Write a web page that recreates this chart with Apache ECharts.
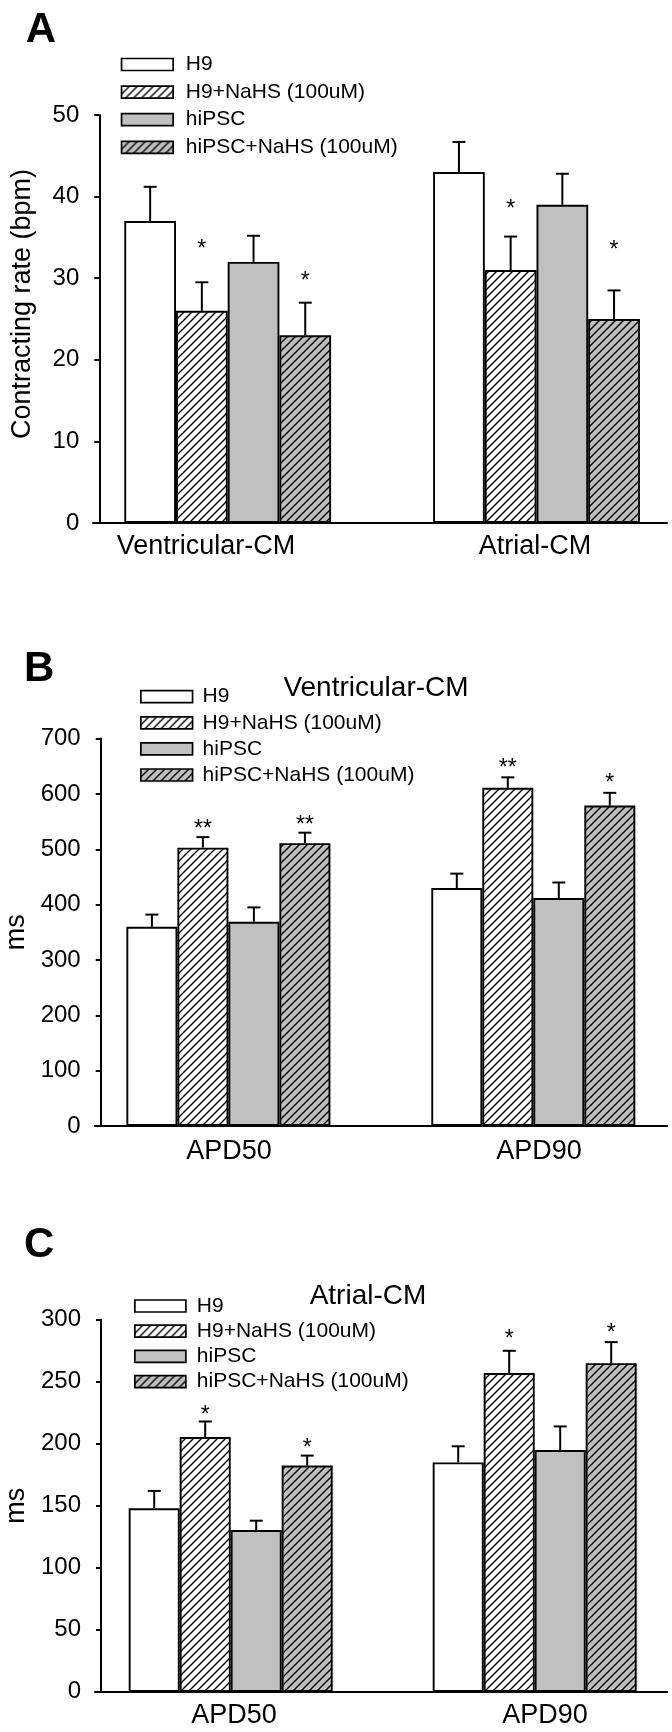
<!DOCTYPE html>
<html><head><meta charset="utf-8">
<script src="https://cdn.jsdelivr.net/npm/echarts@6/dist/echarts.min.js"></script>
<style>html,body{margin:0;padding:0;background:#fff}#c{width:672px;height:1732px}</style>
</head><body><div id="c"></div>
<script>
// ---------- data ----------
const groups = ['H9', 'H9+NaHS (100uM)', 'hiPSC', 'hiPSC+NaHS (100uM)'];

// Panel A: contracting rate (bpm)
const catsA = ['Ventricular-CM', 'Atrial-CM'];
const ticksA = [0, 10, 20, 30, 40, 50];
const rateH9 = [37, 43];
const rateH9NaHS = [26, 31];
const rateIPS = [32, 39];
const rateIPSNaHS = [23, 25];
const rateH9Sem = [4.2, 3.7];
const rateH9NaHSSem = [3.5, 4.1];
const rateIPSSem = [3.2, 3.8];
const rateIPSNaHSSem = [4.0, 3.5];
const rateH9NaHSSig = ['*', '*'];
const rateIPSNaHSSig = ['*', '*'];
const rateH9NaHSSigAt = [34.1, 39.0];
const rateIPSNaHSSigAt = [30.2, 34.0];

// Panel B: Ventricular-CM APD (ms)
const catsB = ['APD50', 'APD90'];
const ticksB = [0, 100, 200, 300, 400, 500, 600, 700];
const vH9 = [360, 430];
const vH9NaHS = [503, 611];
const vIPS = [369, 412];
const vIPSNaHS = [511, 579];
const vH9Sem = [22, 26];
const vH9NaHSSem = [19, 19];
const vIPSSem = [26, 28];
const vIPSNaHSSem = [19, 23];
const vH9NaHSSig = ['**', '**'];
const vIPSNaHSSig = ['**', '*'];
const vH9NaHSSigAt = [543, 654.6];
const vIPSNaHSSigAt = [551.5, 627.5];

// Panel C: Atrial-CM APD (ms)
const catsC = ['APD50', 'APD90'];
const ticksC = [0, 50, 100, 150, 200, 250, 300];
const aH9 = [148, 185];
const aH9NaHS = [205.5, 257];
const aIPS = [130.5, 195];
const aIPSNaHS = [182.5, 265];
const aH9Sem = [14, 13];
const aH9NaHSSem = [12.5, 18];
const aIPSSem = [7.5, 19];
const aIPSNaHSSem = [8, 17];
const aH9NaHSSig = ['*', '*'];
const aIPSNaHSSig = ['*', '*'];
const aH9NaHSSigAt = [226.6, 288];
const aIPSNaHSSigAt = [199.9, 292.7];

// ---------- layout / style ----------
const FONT = '"Liberation Sans", Arial, Helvetica, sans-serif';
const panels = [
  { letter: 'A', letterX: 25.7, letterY: 30.6, title: null,
    cats: catsA, ticks: ticksA, yName: 'Contracting rate (bpm)', namePad: [0, 0, 0, 30],
    means: [rateH9, rateH9NaHS, rateIPS, rateIPSNaHS],
    sems: [rateH9Sem, rateH9NaHSSem, rateIPSSem, rateIPSNaHSSem],
    sigs: [null, rateH9NaHSSig, null, rateIPSNaHSSig],
    sigAt: [null, rateH9NaHSSigAt, null, rateIPSNaHSSigAt],
    top: 115, height: 408, dataLeft: 73.3, dataWidth: 617.6, barW: 51.7,
    axisLeft: 93, yOff: -6.3, labelMargin: 10, labelShift: [-21.7, -1.5],
    legendLeft: 120.7, legendTop: 54, legendGap: 6.6, legendW: 51.6, legendPad: 7.7 },
  { letter: 'B', letterX: 24, letterY: 669.6, title: 'Ventricular-CM', titleX: 376, titleY: 688.3,
    cats: catsB, ticks: ticksB, yName: 'ms', namePad: [0, 0, 0, 0],
    means: [vH9, vH9NaHS, vIPS, vIPSNaHS],
    sems: [vH9Sem, vH9NaHSSem, vIPSSem, vIPSNaHSSem],
    sigs: [null, vH9NaHSSig, null, vIPSNaHSSig],
    sigAt: [null, vH9NaHSSigAt, null, vIPSNaHSSigAt],
    top: 738.6, height: 387.4, dataLeft: 75.95, dataWidth: 609.8, barW: 51,
    axisLeft: 95, yOff: -5.7, labelMargin: 12, labelShift: [0.6, 5.7],
    legendLeft: 140, legendTop: 686.2, legendGap: 5.1, legendW: 51.7, legendPad: 5 },
  { letter: 'C', letterX: 24, letterY: 1245.6, title: 'Atrial-CM', titleX: 368, titleY: 1296,
    cats: catsC, ticks: ticksC, yName: 'ms', namePad: [0, 0, 0, 0],
    means: [aH9, aH9NaHS, aIPS, aIPSNaHS],
    sems: [aH9Sem, aH9NaHSSem, aIPSSem, aIPSNaHSSem],
    sigs: [null, aH9NaHSSig, null, aIPSNaHSSig],
    sigAt: [null, aH9NaHSSigAt, null, aIPSNaHSSigAt],
    top: 1319.8, height: 372, dataLeft: 78.7, dataWidth: 608, barW: 51,
    axisLeft: 95, yOff: -6, labelMargin: 10, labelShift: [3.3, 10.3],
    legendLeft: 134, legendTop: 1295.5, legendGap: 4.2, legendW: 51, legendPad: 6 }
];

function hatch(bg) {
  const c = document.createElement('canvas'); c.width = 8; c.height = 8;
  const g = c.getContext('2d'); g.fillStyle = bg; g.fillRect(0, 0, 8, 8);
  g.strokeStyle = '#000'; g.lineWidth = 1.4; g.lineCap = 'square';
  g.beginPath();
  g.moveTo(-2, 10); g.lineTo(10, -2);
  g.moveTo(-2, 2); g.lineTo(2, -2);
  g.moveTo(6, 10); g.lineTo(10, 6);
  g.stroke();
  return { image: c, repeat: 'repeat' };
}
const fills = ['#ffffff', hatch('#ffffff'), '#c0c0c0', hatch('#c0c0c0')];

const grid = [], xAxis = [], yAxis = [], series = [], legend = [], graphic = [];

panels.forEach((P, pi) => {
  const t = P.ticks;
  const yMin = t[0], yMax = t[t.length - 1], yInt = t[1] - t[0];
  const gData = grid.length;
  grid.push({ left: P.dataLeft, width: P.dataWidth, top: P.top, height: P.height, containLabel: false, outerBoundsMode: 'none' });
  grid.push({ left: P.axisLeft, right: 5, top: P.top, height: P.height, containLabel: false, outerBoundsMode: 'none' });
  const rich = {};
  P.labelShift.forEach((s, i) => {
    rich['c' + i] = { fontSize: 27, fontFamily: FONT, color: '#000', lineHeight: 27,
      padding: s < 0 ? [0, -2 * s, 0, 0] : [0, 0, 0, 2 * s] };
  });
  // data axes (category positions of the bars)
  xAxis.push({ type: 'category', gridIndex: gData, data: P.cats,
    axisLine: { show: false }, axisTick: { show: false }, splitLine: { show: false },
    axisLabel: { margin: P.labelMargin, interval: 0, fontSize: 27, fontFamily: FONT, color: '#000', lineHeight: 27,
      formatter: (v, i) => '{c' + i + '|' + v + '}', rich } });
  yAxis.push({ type: 'value', gridIndex: gData, min: yMin, max: yMax, interval: yInt, show: false });
  // visible axis frame
  xAxis.push({ type: 'value', gridIndex: gData + 1, min: 0, max: 1,
    axisLine: { show: true, onZero: false, lineStyle: { color: '#000', width: 2 } },
    axisTick: { show: false }, axisLabel: { show: false }, splitLine: { show: false } });
  yAxis.push({ type: 'value', gridIndex: gData + 1, min: yMin, max: yMax, interval: yInt, offset: P.yOff,
    name: P.yName, nameLocation: 'middle', nameGap: 63,
    nameTextStyle: { fontSize: 27, fontFamily: FONT, color: '#000', padding: P.namePad },
    axisLine: { show: true, lineStyle: { color: '#000', width: 2 } },
    axisTick: { show: true, inside: false, length: 5, lineStyle: { color: '#000', width: 2 } },
    axisLabel: { margin: 20, fontSize: 24, fontFamily: FONT, color: '#000' },
    splitLine: { show: false } });
  const xi = xAxis.length - 2, yi = yAxis.length - 2;
  groups.forEach((name, k) => {
    series.push({ type: 'bar', name, xAxisIndex: xi, yAxisIndex: yi, data: P.means[k],
      barWidth: P.barW, barGap: '0%', animation: false,
      itemStyle: { color: fills[k], borderColor: '#000', borderWidth: 1.9 },
      emphasis: { disabled: true } });
  });
  groups.forEach((name, k) => {
    const sig = P.sigs[k];
    const data = P.cats.map((c, i) => [i, P.means[k][i], P.means[k][i] + P.sems[k][i], sig ? P.sigAt[k][i] : null]);
    series.push({ type: 'custom', name: 'err' + pi + '_' + k, xAxisIndex: xi, yAxisIndex: yi, data,
      clip: false, animation: false, silent: true, z: 5,
      renderItem: (params, api) => {
        const i = api.value(0);
        const p0 = api.coord([i, api.value(1)]);
        const p1 = api.coord([i, api.value(2)]);
        const x = p0[0] + (k - 1.5) * P.barW;
        const children = [
          { type: 'line', shape: { x1: x, y1: p0[1], x2: x, y2: p1[1] }, style: { stroke: '#000', lineWidth: 2 } },
          { type: 'line', shape: { x1: x - 6.5, y1: p1[1], x2: x + 6.5, y2: p1[1] }, style: { stroke: '#000', lineWidth: 2 } }
        ];
        if (sig && sig[params.dataIndex]) {
          const ps = api.coord([i, api.value(3)]);
          children.push({ type: 'text', x: x, y: ps[1] + 4.6,
            style: { text: sig[params.dataIndex], fill: '#000', fontSize: 23, fontFamily: FONT,
              align: 'center', verticalAlign: 'middle', textAlign: 'center', textVerticalAlign: 'middle' } });
        }
        return { type: 'group', children };
      } });
  });
  legend.push({ data: groups, orient: 'vertical', left: P.legendLeft, top: P.legendTop, padding: 0,
    itemGap: P.legendGap, itemWidth: P.legendW, itemHeight: 12, icon: 'rect', selectedMode: false,
    itemStyle: { borderColor: '#000', borderWidth: 1.7 },
    textStyle: { fontSize: 21, lineHeight: 21, fontFamily: FONT, color: '#000', padding: [0, 0, 0, P.legendPad] } });
  graphic.push({ type: 'text', x: P.letterX, y: P.letterY,
    style: { text: P.letter, fontSize: 42, fontWeight: 'bold', fontFamily: FONT, fill: '#000',
      align: 'left', verticalAlign: 'middle' } });
  if (P.title) {
    graphic.push({ type: 'text', x: P.titleX, y: P.titleY,
      style: { text: P.title, fontSize: 28, fontFamily: FONT, fill: '#000', align: 'center', verticalAlign: 'middle' } });
  }
});

const chart = echarts.init(document.getElementById('c'), null, { renderer: 'canvas', width: 672, height: 1732 });
chart.setOption({ animation: false, backgroundColor: '#ffffff', grid, xAxis, yAxis, series, legend, graphic, tooltip: { show: false } });
</script></body></html>
